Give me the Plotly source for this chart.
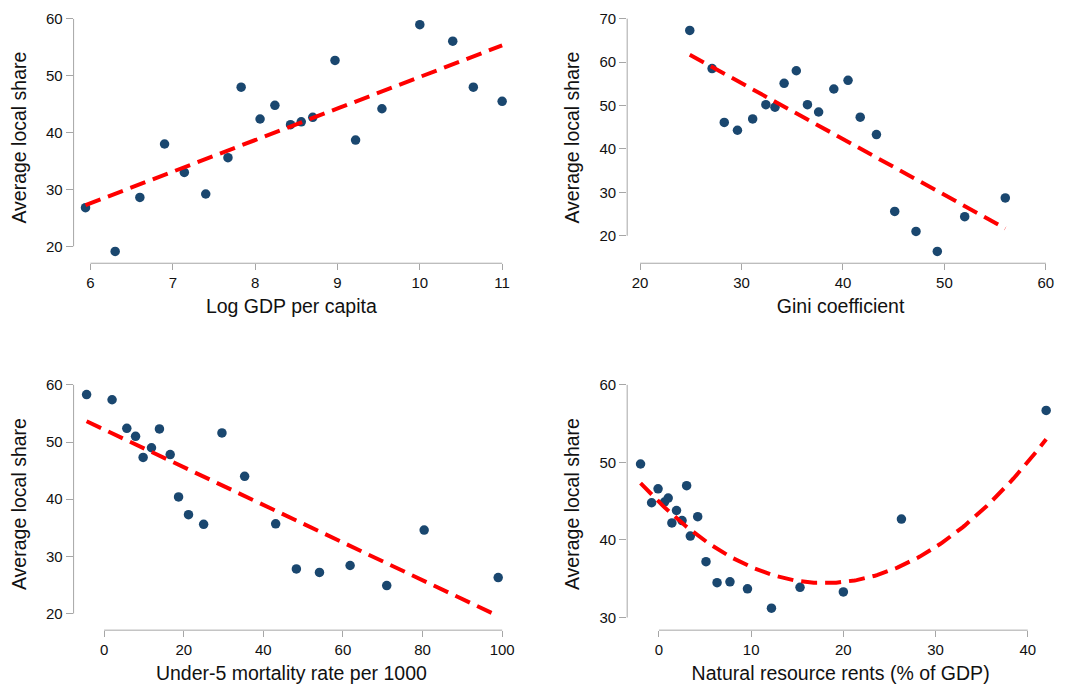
import numpy as np
import plotly.graph_objects as go

# ---------------- data ----------------
gdp_x = [5.94, 6.30, 6.60, 6.90, 7.14, 7.40, 7.67, 7.83, 8.06, 8.24,
         8.43, 8.56, 8.70, 8.97, 9.22, 9.54, 10.00, 10.40, 10.65, 11.00]
gdp_y = [26.8, 19.1, 28.6, 38.0, 33.0, 29.2, 35.6, 48.0, 42.4, 44.8,
         41.4, 41.9, 42.7, 52.7, 38.7, 44.2, 59.0, 56.1, 48.0, 45.5]

gini_x = [24.9, 27.1, 28.3, 29.6, 31.1, 32.4, 33.3, 34.2, 35.4, 36.5,
          37.6, 39.1, 40.5, 41.7, 43.3, 45.1, 47.2, 49.3, 52.0, 56.0]
gini_y = [67.3, 58.5, 46.1, 44.3, 46.9, 50.2, 49.6, 55.1, 58.0, 50.2,
          48.5, 53.8, 55.8, 47.3, 43.3, 25.6, 21.0, 16.4, 24.4, 28.7]

u5_x = [-4.4, 2.0, 5.7, 7.9, 9.8, 11.9, 13.9, 16.6, 18.7, 21.2,
        25.0, 29.6, 35.3, 43.1, 48.3, 54.1, 61.8, 71.0, 80.4, 99.0]
u5_y = [58.3, 57.4, 52.4, 51.0, 47.3, 49.0, 52.3, 47.8, 40.4, 37.3,
        35.6, 51.6, 44.0, 35.7, 27.8, 27.2, 28.4, 24.9, 34.6, 26.3]

nr_x = [-2.0, -0.8, -0.1, 0.6, 1.0, 1.4, 1.9, 2.5, 3.0, 3.4,
        4.2, 5.1, 6.3, 7.7, 9.6, 12.2, 15.3, 20.0, 26.3, 42.0]
nr_y = [49.8, 44.8, 46.6, 44.9, 45.4, 42.2, 43.8, 42.5, 47.0, 40.5,
        43.0, 37.2, 34.5, 34.6, 33.7, 31.2, 33.9, 33.3, 42.7, 56.7]

# quadratic fit curve of the last panel (start, vertex, end)
nr_fit_x = [-2.05, 17.7, 42.0]
nr_fit_y = [47.4, 34.45, 53.0]

x_titles = ["Log GDP per capita", "Gini coefficient",
            "Under-5 mortality rate per 1000", "Natural resource rents (% of GDP)"]
y_title = "Average local share"

gdp_xticks = [6, 7, 8, 9, 10, 11]
gdp_yticks = [20, 30, 40, 50, 60]
gini_xticks = [20, 30, 40, 50, 60]
gini_yticks = [20, 30, 40, 50, 60, 70]
u5_xticks = [0, 20, 40, 60, 80, 100]
u5_yticks = [20, 30, 40, 50, 60]
nr_xticks = [0, 10, 20, 30, 40]
nr_yticks = [30, 40, 50, 60]

# ---------------- layout geometry ----------------
W, H = 1075, 689
col_px = [(74, 512), (630.7, 1060)]
row_px = [(10, 262), (377, 630)]
xranges = [[5.795, 11.085], [18.73, 60.81], [-7.67, 101.75], [-3.45, 42.86]]
yranges = [[17.02, 61.23], [13.67, 71.54], [17.09, 61.22], [28.37, 60.9]]

panels = [
    (gdp_x, gdp_y, gdp_xticks, gdp_yticks),
    (gini_x, gini_y, gini_xticks, gini_yticks),
    (u5_x, u5_y, u5_xticks, u5_yticks),
    (nr_x, nr_y, nr_xticks, nr_yticks),
]

FONT = "Liberation Sans, Arial, Helvetica, sans-serif"
MARK = "#1a476f"
AXC = "#a6a6a6"

fig = go.Figure()
shapes = []
for i, (xs, ys, xt, yt) in enumerate(panels):
    sfx = "" if i == 0 else str(i + 1)
    xa, ya = "x" + sfx, "y" + sfx
    fig.add_trace(go.Scatter(x=xs, y=ys, mode="markers", xaxis=xa, yaxis=ya,
                             marker=dict(size=9.5, color=MARK), showlegend=False))
    if i < 3:
        coef = np.polyfit(xs, ys, 1)
    else:
        coef = np.polyfit(nr_fit_x, nr_fit_y, 2)
    fx = np.linspace(min(xs), max(xs), 200)
    fy = np.polyval(coef, fx)
    fig.add_trace(go.Scatter(x=fx, y=fy, mode="lines", xaxis=xa, yaxis=ya,
                             line=dict(color="#ff0000", width=4, dash="16px,8px"),
                             showlegend=False))
    r, c = divmod(i, 2)
    x0, x1 = col_px[c]
    y0, y1 = row_px[r]
    fig.layout["xaxis" + sfx] = dict(
        domain=[x0 / W, x1 / W], range=xranges[i], anchor=ya,
        tickvals=xt, ticks="outside", ticklen=6, tickwidth=1, tickcolor=AXC,
        showline=False, showgrid=False, zeroline=False,
        tickfont=dict(family=FONT, size=15, color="#111"),
        title=dict(text=x_titles[i], standoff=9,
                   font=dict(family=FONT, size=19.5, color="#111")))
    fig.layout["yaxis" + sfx] = dict(
        domain=[1 - y1 / H, 1 - y0 / H], range=yranges[i], anchor=xa,
        tickvals=yt, ticks="outside", ticklen=7, tickwidth=1, tickcolor=AXC,
        showline=False, showgrid=False, zeroline=False,
        tickfont=dict(family=FONT, size=15, color="#111"),
        title=dict(text=y_title, standoff=14,
                   font=dict(family=FONT, size=19.5, color="#111")))
    shapes.append(dict(type="line", xref=xa, yref=ya + " domain",
                       x0=xt[0], x1=xt[-1], y0=0, y1=0,
                       line=dict(color=AXC, width=1)))
    shapes.append(dict(type="line", xref=xa + " domain", yref=ya,
                       x0=0, x1=0, y0=yt[0], y1=yt[-1],
                       line=dict(color=AXC, width=1)))

fig.update_layout(width=W, height=H, margin=dict(l=0, r=0, t=0, b=0),
                  plot_bgcolor="white", paper_bgcolor="white",
                  shapes=shapes, font=dict(family=FONT))
fig.write_html("out.html")
